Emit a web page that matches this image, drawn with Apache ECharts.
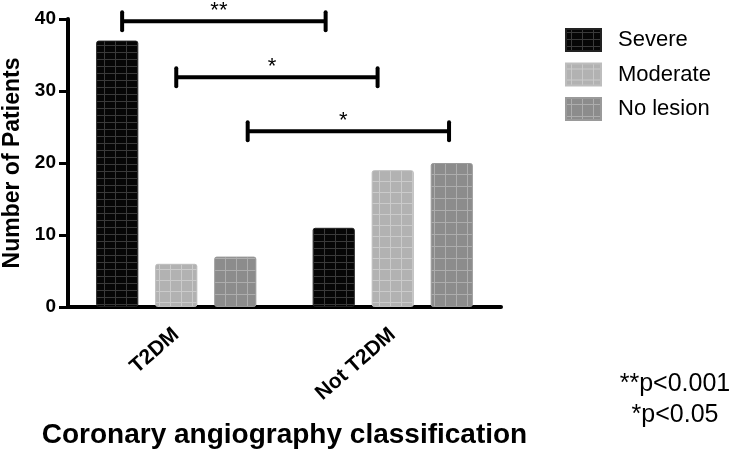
<!DOCTYPE html>
<html>
<head>
<meta charset="utf-8">
<script src="https://cdn.jsdelivr.net/npm/echarts@6/dist/echarts.min.js"></script>
<style>
html,body{margin:0;padding:0;background:#fff;}
#chart{width:731px;height:451px;}
</style>
</head>
<body>
<div id="chart"></div>
<script>
// ---- data ----
var categories = ['T2DM', 'Not T2DM'];
var seriesNames = ['Severe', 'Moderate', 'No lesion'];
var severe = [37, 11];
var moderate = [6, 19];
var noLesion = [7, 20];
var yMin = 0, yMax = 40, yInterval = 10;
// significance brackets (x in category units: 0 = T2DM centre, 1 = Not T2DM centre)
var bracketStart = [-0.25, 0.0, 0.33];
var bracketEnd = [0.69, 0.93, 1.26];
var bracketY = [39.7, 31.9, 24.4];
var bracketLabel = ['**', '*', '*'];
var pNotes = ['**p<0.001', '*p<0.05'];

var FONT = 'Liberation Sans, Arial, Helvetica, sans-serif';

function makePattern(bg, line, dx, dy) {
  var c = document.createElement('canvas');
  c.width = dx; c.height = dy;
  var ctx = c.getContext('2d');
  ctx.fillStyle = bg; ctx.fillRect(0, 0, dx, dy);
  ctx.fillStyle = line;
  ctx.fillRect(Math.floor(dx / 2), 0, 1, dy);
  ctx.fillRect(0, Math.floor(dy / 2), dx, 1);
  return { image: c, repeat: 'repeat' };
}
var patterns = [
  makePattern('#060606', '#3a3a3a', 11, 7),
  makePattern('#b2b2b2', '#cbcbcb', 11, 11),
  makePattern('#8c8c8c', '#adadad', 11, 12)
];
var borders = ['#222222', '#bdbdbd', '#9a9a9a'];
var values = [severe, moderate, noLesion];

var bracketData = bracketStart.map(function (s, i) {
  return [s, bracketEnd[i], bracketY[i], i];
});

var chart = echarts.init(document.getElementById('chart'), null, { renderer: 'canvas' });

var series = seriesNames.map(function (name, i) {
  return {
    name: name,
    type: 'bar',
    xAxisIndex: 0,
    yAxisIndex: 0,
    data: values[i],
    barGap: '40%',
    barCategoryGap: '26%',
    itemStyle: {
      color: patterns[i],
      borderColor: borders[i],
      borderWidth: 1,
      borderRadius: 2
    },
    emphasis: { disabled: true },
    animation: false
  };
});

series.push({
  type: 'custom',
  name: 'brackets',
  xAxisIndex: 1,
  yAxisIndex: 0,
  silent: true,
  animation: false,
  data: bracketData,
  encode: { x: [0, 1], y: 2 },
  renderItem: function (params, api) {
    var p1 = api.coord([api.value(0), api.value(2)]);
    var p2 = api.coord([api.value(1), api.value(2)]);
    var idx = api.value(3);
    var h = 9;
    var ls = { stroke: '#000', lineWidth: 4, lineCap: 'round' };
    return {
      type: 'group',
      children: [
        { type: 'line', shape: { x1: p1[0], y1: p1[1], x2: p2[0], y2: p2[1] }, style: { stroke: '#000', lineWidth: 4 } },
        { type: 'line', shape: { x1: p1[0], y1: p1[1] - h, x2: p1[0], y2: p1[1] + h }, style: ls },
        { type: 'line', shape: { x1: p2[0], y1: p2[1] - h, x2: p2[0], y2: p2[1] + h }, style: ls },
        { type: 'text', style: {
            text: bracketLabel[idx],
            x: (p1[0] + p2[0]) / 2 - 5,
            y: p1[1] + 1,
            textAlign: 'center',
            textVerticalAlign: 'bottom',
            font: '22px ' + FONT,
            fill: '#000'
        } }
      ]
    };
  }
});

var option = {
  backgroundColor: '#ffffff',
  animation: false,
  textStyle: { fontFamily: FONT, color: '#000' },
  grid: { left: 68, right: 230, top: 19, bottom: 144, containLabel: false, outerBoundsMode: 'none' },
  legend: {
    orient: 'vertical',
    left: 565,
    top: 28,
    itemWidth: 35,
    itemHeight: 22,
    itemGap: 10.5,
    icon: 'rect',
    padding: 0,
    data: seriesNames,
    selectedMode: false,
    textStyle: { fontSize: 22, lineHeight: 22, color: '#000', fontFamily: FONT, padding: [0, 0, 0, 12] }
  },
  xAxis: [
    {
      type: 'category',
      data: categories,
      axisLine: { onZero: false, lineStyle: { color: '#000', width: 4 } },
      axisTick: { alignWithLabel: true, length: 9, lineStyle: { color: '#000', width: 3 } },
      axisLabel: { rotate: 41, margin: 25, fontSize: 21, fontWeight: 'bold', color: '#000', fontFamily: FONT, interval: 0 },
      name: 'Coronary angiography classification',
      nameLocation: 'middle',
      nameGap: 114,
      nameTextStyle: { fontSize: 28, fontWeight: 'bold', color: '#000', fontFamily: FONT }
    },
    {
      type: 'value',
      min: -0.5,
      max: 1.5,
      show: false
    }
  ],
  yAxis: {
    type: 'value',
    min: yMin,
    max: yMax,
    interval: yInterval,
    splitLine: { show: false },
    axisLine: { show: true, onZero: false, lineStyle: { color: '#000', width: 4 } },
    axisTick: { show: true, length: 9, lineStyle: { color: '#000', width: 3 } },
    axisLabel: { margin: 12, fontSize: 19, fontWeight: 'bold', color: '#000', fontFamily: FONT },
    name: 'Number of Patients',
    nameLocation: 'middle',
    nameGap: 37,
    nameTextStyle: { fontSize: 23, fontWeight: 'bold', color: '#000', fontFamily: FONT }
  },
  graphic: pNotes.map(function (t, i) {
    return {
      type: 'text',
      x: 675,
      y: 384 + i * 31,
      style: { text: t, textAlign: 'center', textVerticalAlign: 'middle', font: '25px ' + FONT, fill: '#000' }
    };
  }),
  series: series
};
chart.setOption(option);
</script>
</body>
</html>
